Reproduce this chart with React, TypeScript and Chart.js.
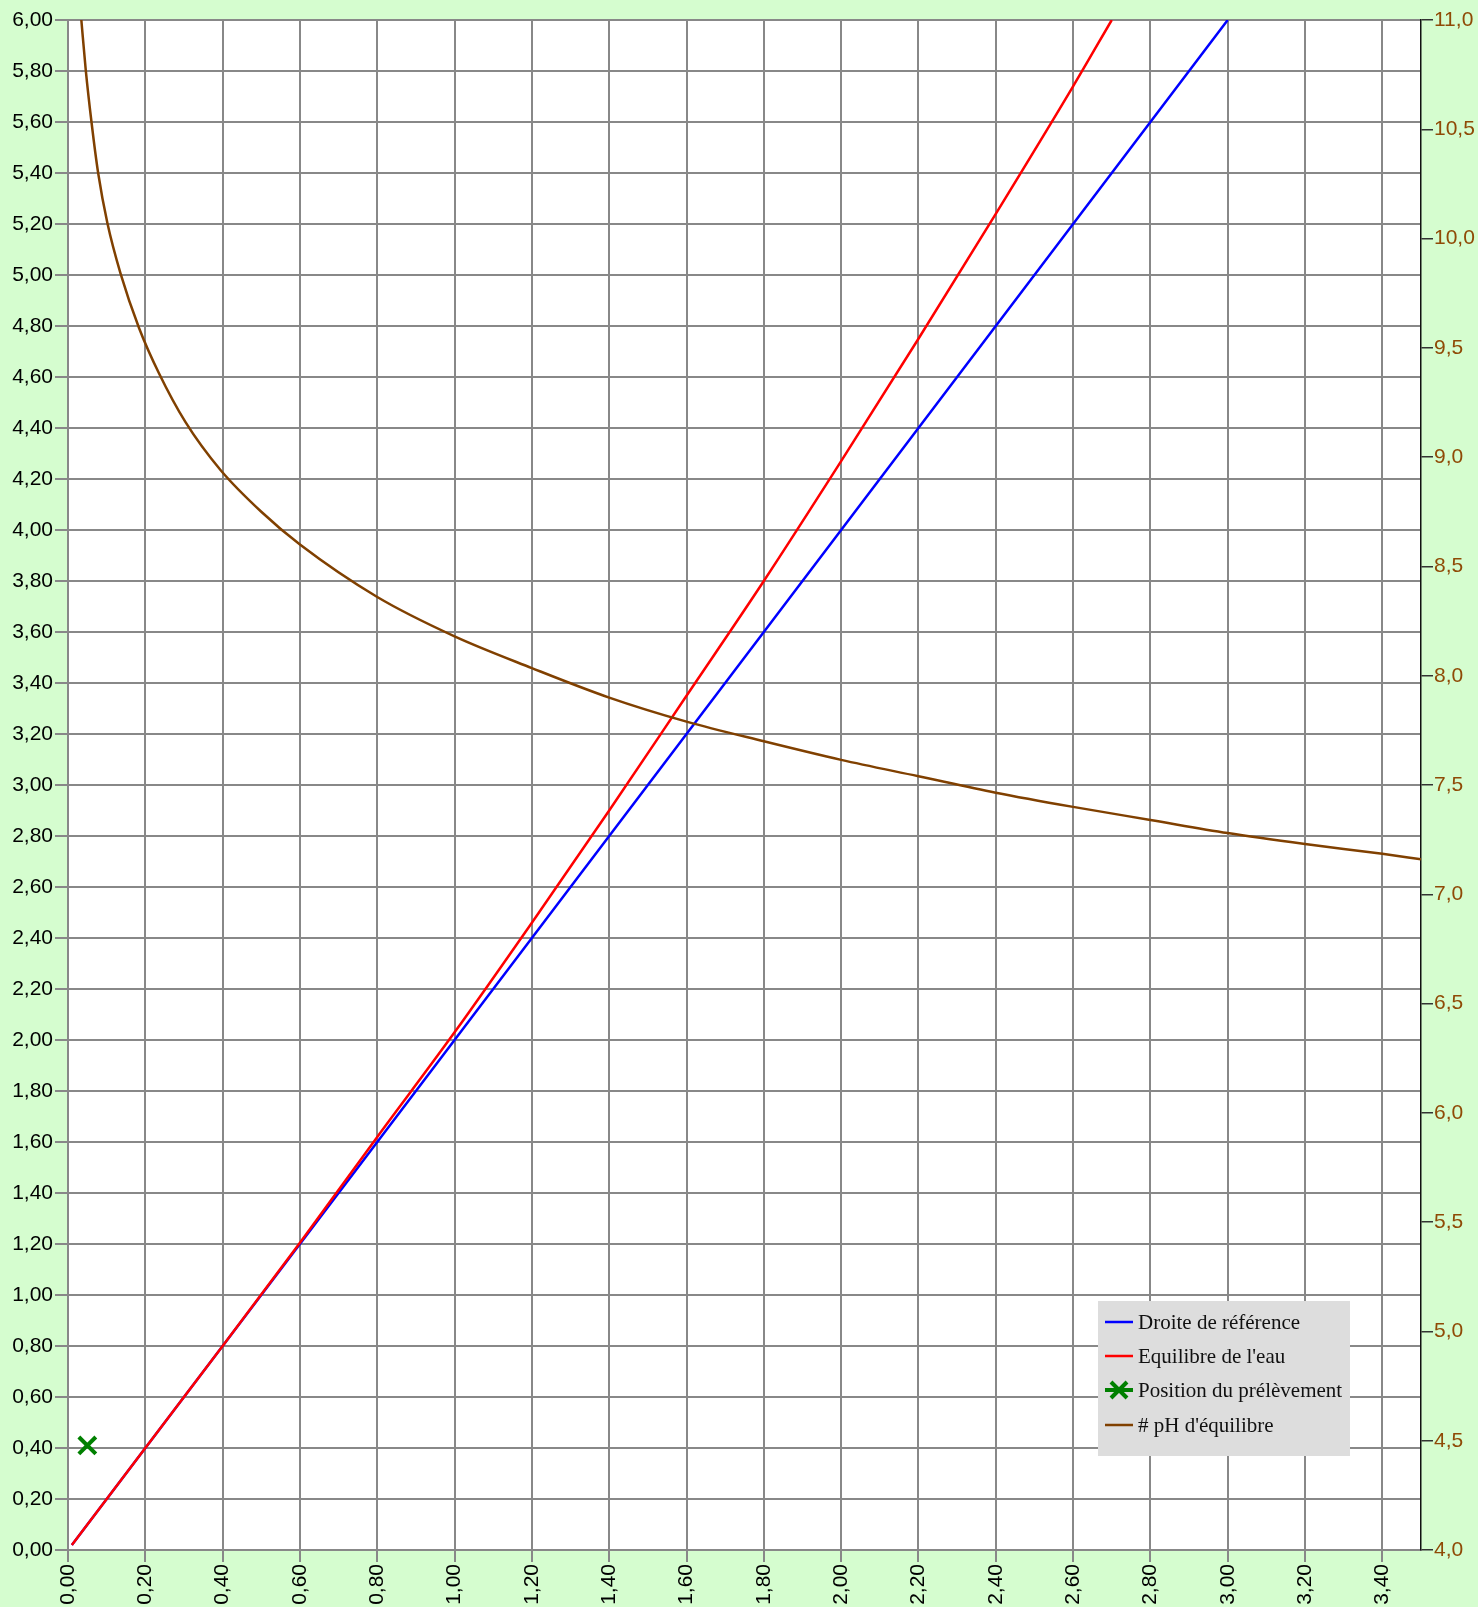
import React, { useEffect, useRef } from "react";
import { Chart, registerables } from "chart.js";

Chart.register(...registerables);

// ---- Data ----
const xTickValues = [0, 0.2, 0.4, 0.6, 0.8, 1.0, 1.2, 1.4, 1.6, 1.8, 2.0, 2.2, 2.4, 2.6, 2.8, 3.0, 3.2, 3.4];
const yTickValues = [0, 0.2, 0.4, 0.6, 0.8, 1.0, 1.2, 1.4, 1.6, 1.8, 2.0, 2.2, 2.4, 2.6, 2.8, 3.0, 3.2, 3.4, 3.6, 3.8, 4.0, 4.2, 4.4, 4.6, 4.8, 5.0, 5.2, 5.4, 5.6, 5.8, 6.0];
const y2TickValues = [4.0, 4.5, 5.0, 5.5, 6.0, 6.5, 7.0, 7.5, 8.0, 8.5, 9.0, 9.5, 10.0, 10.5, 11.0];

const seriesNames = ["Droite de référence", "Equilibre de l'eau", "Position du prélèvement", "# pH d'équilibre"];

const refX = [0.01, 0.5, 1.0, 1.5, 2.0, 2.5, 3.0];
const refY = [0.02, 1.0, 2.0, 3.0, 4.0, 5.0, 6.0];

const eqX = [0.01, 0.2, 0.4, 0.6, 0.8, 1.0, 1.2, 1.4, 1.6, 1.8, 2.0, 2.2, 2.4, 2.6, 2.7];
const eqY = [0.02, 0.40, 0.80, 1.205, 1.62, 2.03, 2.46, 2.90, 3.35, 3.80, 4.27, 4.75, 5.24, 5.74, 6.0];

const sampleX = [0.05];
const sampleY = [0.41];

const phX = [0.0345, 0.046, 0.061, 0.078, 0.102, 0.136, 0.184, 0.235, 0.304, 0.395, 0.5, 0.6, 0.8, 1.0, 1.2, 1.4, 1.6, 1.8, 2.0, 2.2, 2.4, 2.6, 2.8, 3.0, 3.2, 3.4, 3.5];
const phY = [11.0, 10.77, 10.53, 10.30, 10.07, 9.84, 9.59, 9.385, 9.16, 8.94, 8.75, 8.60, 8.36, 8.18, 8.035, 7.90, 7.79, 7.70, 7.615, 7.54, 7.465, 7.40, 7.34, 7.28, 7.23, 7.185, 7.16];

// ---- Styles ----
const PAGE_BG = "#d5fdcf";
const GRID = "#888888";
const BROWN = "#804000";
const BROWN_TEXT = "#8f4a06";
const SANS = "'Liberation Sans', Arial, sans-serif";
const SERIF = "'Liberation Serif', 'Times New Roman', serif";

const toPts = (xs: number[], ys: number[]) => xs.map((x, i) => ({ x, y: ys[i] }));
const fmt = (d: number) => (v: any) => Number(v).toFixed(d).replace(".", ",");

const bgPlugin = {
  id: "bgPlugin",
  beforeDraw(chart: any) {
    const { ctx, chartArea: a, width, height } = chart;
    ctx.save();
    ctx.fillStyle = PAGE_BG;
    ctx.fillRect(0, 0, width, height);
    ctx.fillStyle = "#ffffff";
    ctx.fillRect(a.left, a.top, a.right - a.left, a.bottom - a.top);
    ctx.restore();
  },
};

const legendPlugin = {
  id: "boxLegend",
  afterDraw(chart: any) {
    const { ctx, chartArea: a } = chart;
    const left = a.right - 323;
    const top = a.bottom - 249;
    const w = 252;
    const h = 155;
    ctx.save();
    ctx.fillStyle = "#dddddd";
    ctx.fillRect(left, top, w, h);
    const rows = [21, 55, 89, 124];
    chart.data.datasets.forEach((ds: any, i: number) => {
      const y = top + rows[i];
      const x0 = left + 7;
      const x1 = left + 35;
      ctx.strokeStyle = ds.borderColor;
      ctx.lineCap = "butt";
      if (ds.pointStyle === "crossRot") {
        ctx.lineWidth = 4;
        ctx.beginPath();
        ctx.moveTo(x0, y);
        ctx.lineTo(x1, y);
        ctx.stroke();
        const cx = (x0 + x1) / 2;
        const r = 8;
        ctx.beginPath();
        ctx.moveTo(cx - r, y - r);
        ctx.lineTo(cx + r, y + r);
        ctx.moveTo(cx - r, y + r);
        ctx.lineTo(cx + r, y - r);
        ctx.stroke();
      } else {
        ctx.lineWidth = 2.5;
        ctx.beginPath();
        ctx.moveTo(x0, y);
        ctx.lineTo(x1, y);
        ctx.stroke();
      }
      ctx.fillStyle = "#111111";
      ctx.font = `21px ${SERIF}`;
      ctx.textBaseline = "middle";
      ctx.textAlign = "left";
      ctx.fillText(ds.label, left + 40, y + 1);
    });
    ctx.restore();
  },
};

export default function App() {
  const ref = useRef<HTMLCanvasElement | null>(null);

  useEffect(() => {
    document.body.style.margin = "0";
    document.body.style.background = PAGE_BG;
    const canvas = ref.current;
    if (!canvas) return;
    const chart = new Chart(canvas, {
      type: "line",
      data: {
        datasets: [
          {
            label: seriesNames[0],
            data: toPts(refX, refY),
            borderColor: "#0000ff",
            backgroundColor: "#0000ff",
            borderWidth: 2.5,
            pointRadius: 0,
            order: 4,
            yAxisID: "y",
          },
          {
            label: seriesNames[1],
            data: toPts(eqX, eqY),
            borderColor: "#ff0000",
            backgroundColor: "#ff0000",
            borderWidth: 2.5,
            pointRadius: 0,
            cubicInterpolationMode: "monotone",
            order: 3,
            yAxisID: "y",
          },
          {
            label: seriesNames[2],
            data: toPts(sampleX, sampleY),
            borderColor: "#008000",
            backgroundColor: "#008000",
            showLine: false,
            pointStyle: "crossRot",
            pointRadius: 12,
            pointBorderWidth: 4,
            borderWidth: 4,
            order: 1,
            yAxisID: "y",
          },
          {
            label: seriesNames[3],
            data: toPts(phX, phY),
            borderColor: BROWN,
            backgroundColor: BROWN,
            borderWidth: 2.5,
            pointRadius: 0,
            cubicInterpolationMode: "monotone",
            order: 2,
            yAxisID: "y2",
          },
        ] as any,
      },
      options: {
        responsive: false,
        animation: false,
        layout: { padding: { top: 20, left: 0, right: 0, bottom: 0 } },
        plugins: { legend: { display: false }, tooltip: { enabled: false } },
        scales: {
          x: {
            type: "linear",
            position: "bottom",
            min: 0,
            max: 3.5,
            afterBuildTicks: (axis: any) => {
              axis.ticks = xTickValues.map((value) => ({ value }));
            },
            afterFit: (axis: any) => {
              axis.height = 57;
            },
            ticks: {
              autoSkip: false,
              maxRotation: 90,
              minRotation: 90,
              padding: 2,
              color: "#000000",
              font: { family: SANS, size: 21 },
              callback: fmt(2),
            },
            grid: { color: GRID, lineWidth: 2, tickLength: 12, drawTicks: true },
            border: { color: GRID, width: 2 },
          },
          y: {
            type: "linear",
            position: "left",
            min: 0,
            max: 6,
            afterBuildTicks: (axis: any) => {
              axis.ticks = yTickValues.map((value) => ({ value }));
            },
            afterFit: (axis: any) => {
              axis.width = 68;
            },
            ticks: {
              autoSkip: false,
              padding: 2,
              color: "#000000",
              font: { family: SANS, size: 21 },
              callback: fmt(2),
            },
            grid: { color: GRID, lineWidth: 2, tickLength: 13 },
            border: { color: GRID, width: 2 },
          },
          y2: {
            type: "linear",
            position: "right",
            min: 4,
            max: 11,
            afterBuildTicks: (axis: any) => {
              axis.ticks = y2TickValues.map((value) => ({ value }));
            },
            afterFit: (axis: any) => {
              axis.width = 57;
            },
            ticks: {
              autoSkip: false,
              padding: 1,
              color: BROWN_TEXT,
              font: { family: SANS, size: 21 },
              callback: fmt(1),
            },
            grid: { drawOnChartArea: false, color: "#333333", lineWidth: 1.5, tickLength: 12 },
            border: { color: "#111111", width: 1.5 },
          },
        },
      } as any,
      plugins: [bgPlugin, legendPlugin],
    });
    return () => chart.destroy();
  }, []);

  return <canvas ref={ref} width={1478} height={1607} style={{ display: "block" }} />;
}
